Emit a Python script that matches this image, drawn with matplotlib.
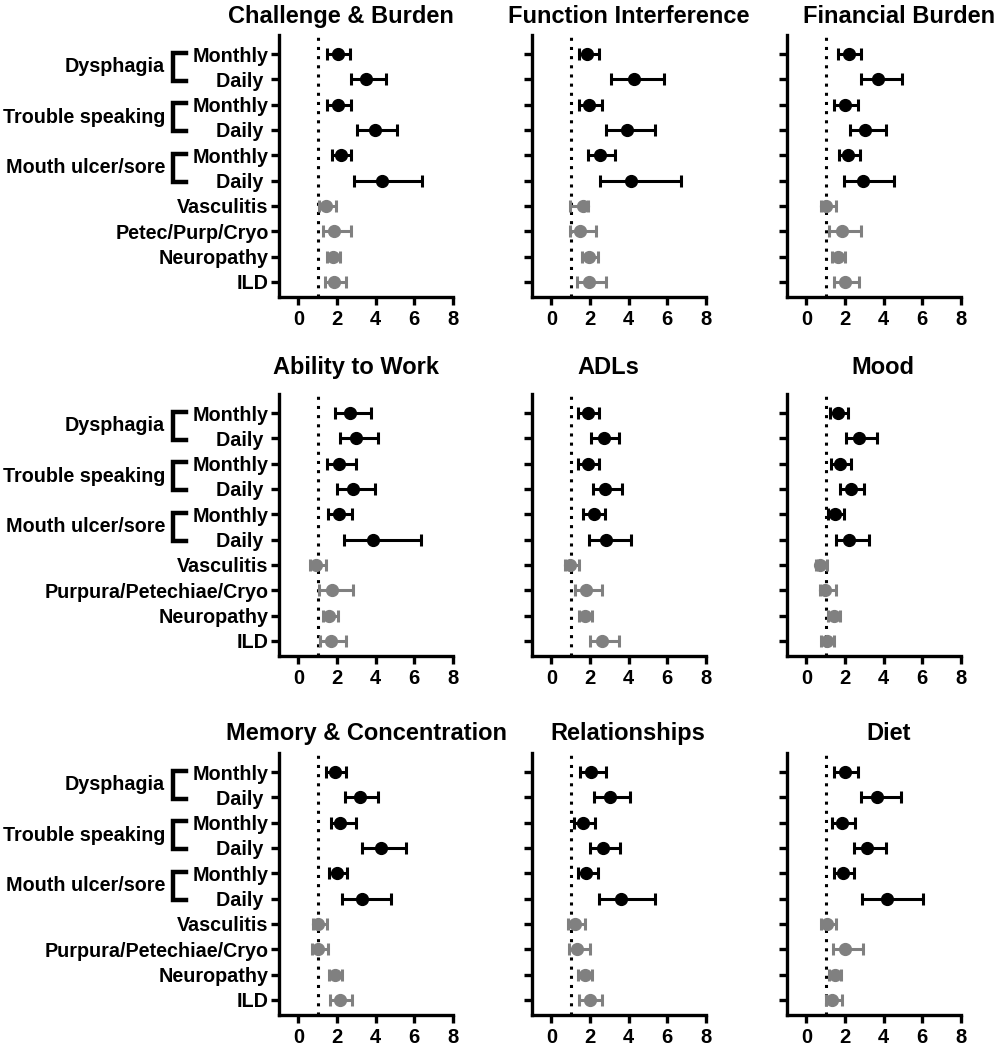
import numpy as np
import matplotlib
matplotlib.use("Agg")
import matplotlib.pyplot as plt
from matplotlib.transforms import blended_transform_factory

plt.rcParams['font.family'] = ['Liberation Sans', 'DejaVu Sans']
plt.rcParams['font.weight'] = 'bold'

# rows: Dysphagia M/D, Trouble speaking M/D, Mouth ulcer M/D, then 4 manifestations
rows_top = ['Monthly', 'Daily ', 'Monthly', 'Daily ', 'Monthly', 'Daily ',
            'Vasculitis', 'Petec/Purp/Cryo', 'Neuropathy', 'ILD']
rows_other = ['Monthly', 'Daily ', 'Monthly', 'Daily ', 'Monthly', 'Daily ',
              'Vasculitis', 'Purpura/Petechiae/Cryo', 'Neuropathy', 'ILD']
groups = ['Dysphagia', 'Trouble speaking', 'Mouth ulcer/sore']

titles = ['Challenge & Burden', 'Function Interference', 'Financial Burden',
          'Ability to Work', 'ADLs', 'Mood',
          'Memory & Concentration', 'Relationships', 'Diet']

# point estimate, lower CI, upper CI for each panel
est_challenge = [2.05, 3.48, 2.05, 3.94, 2.19, 4.34, 1.41, 1.84, 1.79, 1.84]
lo_challenge = [1.50, 2.70, 1.50, 3.05, 1.72, 2.87, 1.07, 1.27, 1.46, 1.36]
hi_challenge = [2.65, 4.56, 2.70, 5.10, 2.74, 6.40, 1.93, 2.70, 2.13, 2.44]

est_function = [1.84, 4.25, 1.94, 3.90, 2.53, 4.10, 1.64, 1.50, 1.94, 1.94]
lo_function = [1.41, 3.10, 1.41, 2.84, 1.89, 2.50, 0.98, 0.95, 1.58, 1.34]
hi_function = [2.44, 5.82, 2.62, 5.35, 3.29, 6.71, 1.91, 2.29, 2.43, 2.81]

est_financial = [2.19, 3.73, 1.98, 3.06, 2.15, 2.93, 1.03, 1.84, 1.64, 1.98]
lo_financial = [1.64, 2.81, 1.43, 2.27, 1.67, 1.93, 0.74, 1.17, 1.33, 1.41]
hi_financial = [2.84, 4.96, 2.67, 4.13, 2.75, 4.51, 1.55, 2.81, 1.98, 2.72]

est_work = [2.69, 2.97, 2.10, 2.83, 2.10, 3.86, 0.93, 1.76, 1.59, 1.67]
lo_work = [1.88, 2.14, 1.47, 2.02, 1.53, 2.36, 0.62, 1.07, 1.28, 1.14]
hi_work = [3.74, 4.12, 2.98, 3.95, 2.79, 6.36, 1.45, 2.83, 2.05, 2.45]

est_adl = [1.88, 2.71, 1.88, 2.79, 2.19, 2.84, 0.98, 1.81, 1.76, 2.64]
lo_adl = [1.36, 2.07, 1.36, 2.14, 1.64, 1.97, 0.69, 1.24, 1.41, 1.98]
hi_adl = [2.45, 3.52, 2.45, 3.66, 2.79, 4.14, 1.41, 2.64, 2.10, 3.48]

est_mood = [1.64, 2.73, 1.73, 2.30, 1.49, 2.21, 0.71, 0.97, 1.43, 1.05]
lo_mood = [1.21, 2.07, 1.28, 1.74, 1.12, 1.52, 0.48, 0.69, 1.14, 0.74]
hi_mood = [2.18, 3.63, 2.33, 2.99, 1.95, 3.25, 1.05, 1.52, 1.73, 1.43]

est_memory = [1.88, 3.17, 2.17, 4.29, 2.00, 3.31, 1.02, 1.02, 1.88, 2.14]
lo_memory = [1.41, 2.40, 1.67, 3.29, 1.59, 2.28, 0.76, 0.72, 1.57, 1.62]
hi_memory = [2.48, 4.12, 2.97, 5.55, 2.53, 4.81, 1.48, 1.53, 2.26, 2.79]

est_relation = [2.03, 3.01, 1.64, 2.67, 1.81, 3.61, 1.20, 1.34, 1.72, 1.98]
lo_relation = [1.46, 2.20, 1.15, 1.98, 1.38, 2.46, 0.86, 0.91, 1.38, 1.43]
hi_relation = [2.84, 4.08, 2.27, 3.53, 2.43, 5.34, 1.72, 1.98, 2.10, 2.63]

est_diet = [1.99, 3.68, 1.83, 3.16, 1.92, 4.16, 1.05, 2.00, 1.49, 1.35]
lo_diet = [1.43, 2.82, 1.35, 2.44, 1.43, 2.90, 0.78, 1.38, 1.17, 1.00]
hi_diet = [2.68, 4.89, 2.50, 4.11, 2.47, 6.01, 1.55, 2.94, 1.78, 1.83]

panels = [
    (est_challenge, lo_challenge, hi_challenge),
    (est_function, lo_function, hi_function),
    (est_financial, lo_financial, hi_financial),
    (est_work, lo_work, hi_work),
    (est_adl, lo_adl, hi_adl),
    (est_mood, lo_mood, hi_mood),
    (est_memory, lo_memory, hi_memory),
    (est_relation, lo_relation, hi_relation),
    (est_diet, lo_diet, hi_diet),
]

fig = plt.figure(figsize=(10, 10.5), dpi=100)

col_left = [0.279, 0.532, 0.787]
row_bottom = [0.7171, 0.3752, 0.0333]
ax_w, ax_h = 0.174, 0.2495
title_x = [[0.341, 0.629, 0.899], [0.356, 0.608, 0.883], [0.366, 0.628, 0.889]]
title_y = [0.984, 0.650, 0.301]

lw = 2.4
n_black = 6
for k, (est, lo, hi) in enumerate(panels):
    r, c = divmod(k, 3)
    ax = fig.add_axes([col_left[c], row_bottom[r], ax_w, ax_h])
    est = np.array(est)
    lo = np.array(lo)
    hi = np.array(hi)
    y = np.arange(len(est))
    for sl, col in [(slice(0, n_black), 'black'), (slice(n_black, None), '#808080')]:
        ax.errorbar(est[sl], y[sl],
                    xerr=[est[sl] - lo[sl], hi[sl] - est[sl]],
                    fmt='o', color=col, ms=8.5, elinewidth=2.2,
                    capsize=4, capthick=2.2, zorder=3)
    ax.axvline(1, color='black', lw=2.2, ls=(0, (1, 2)), zorder=1)
    ax.set_xlim(-1, 8)
    ax.set_ylim(9.6, -0.75)
    ax.set_xticks([0, 2, 4, 6, 8])
    ax.set_yticks(y)
    for s in ['top', 'right']:
        ax.spines[s].set_visible(False)
    for s in ['left', 'bottom']:
        ax.spines[s].set_linewidth(lw)
    ax.tick_params(axis='both', width=lw, length=6, direction='out')
    ax.tick_params(axis='y', pad=1.5, labelsize=14.2)
    ax.tick_params(axis='x', pad=3, labelsize=14.5)
    for t in ax.get_xticklabels():
        t.set_fontweight('bold')
    if c == 0:
        labels = rows_top if r == 0 else rows_other
        ax.set_yticklabels(labels, fontsize=14.2, fontweight='bold')
        tr = blended_transform_factory(fig.transFigure, ax.transData)
        for g, name in enumerate(groups):
            y0, y1 = 2 * g - 0.05, 2 * g + 1.05
            ax.plot([0.186, 0.173, 0.173, 0.186], [y0, y0, y1, y1],
                    color='black', lw=3.2, transform=tr, clip_on=False,
                    solid_joinstyle='miter')
            ax.text(0.165, 2 * g + 0.5, name, transform=tr, ha='right',
                    va='center', fontsize=14.2, fontweight='bold')
    else:
        ax.set_yticklabels([])
    fig.text(title_x[r][c], title_y[r], titles[k], ha='center', va='center',
             fontsize=17, fontweight='bold')

fig.savefig('out.png', dpi=100)
